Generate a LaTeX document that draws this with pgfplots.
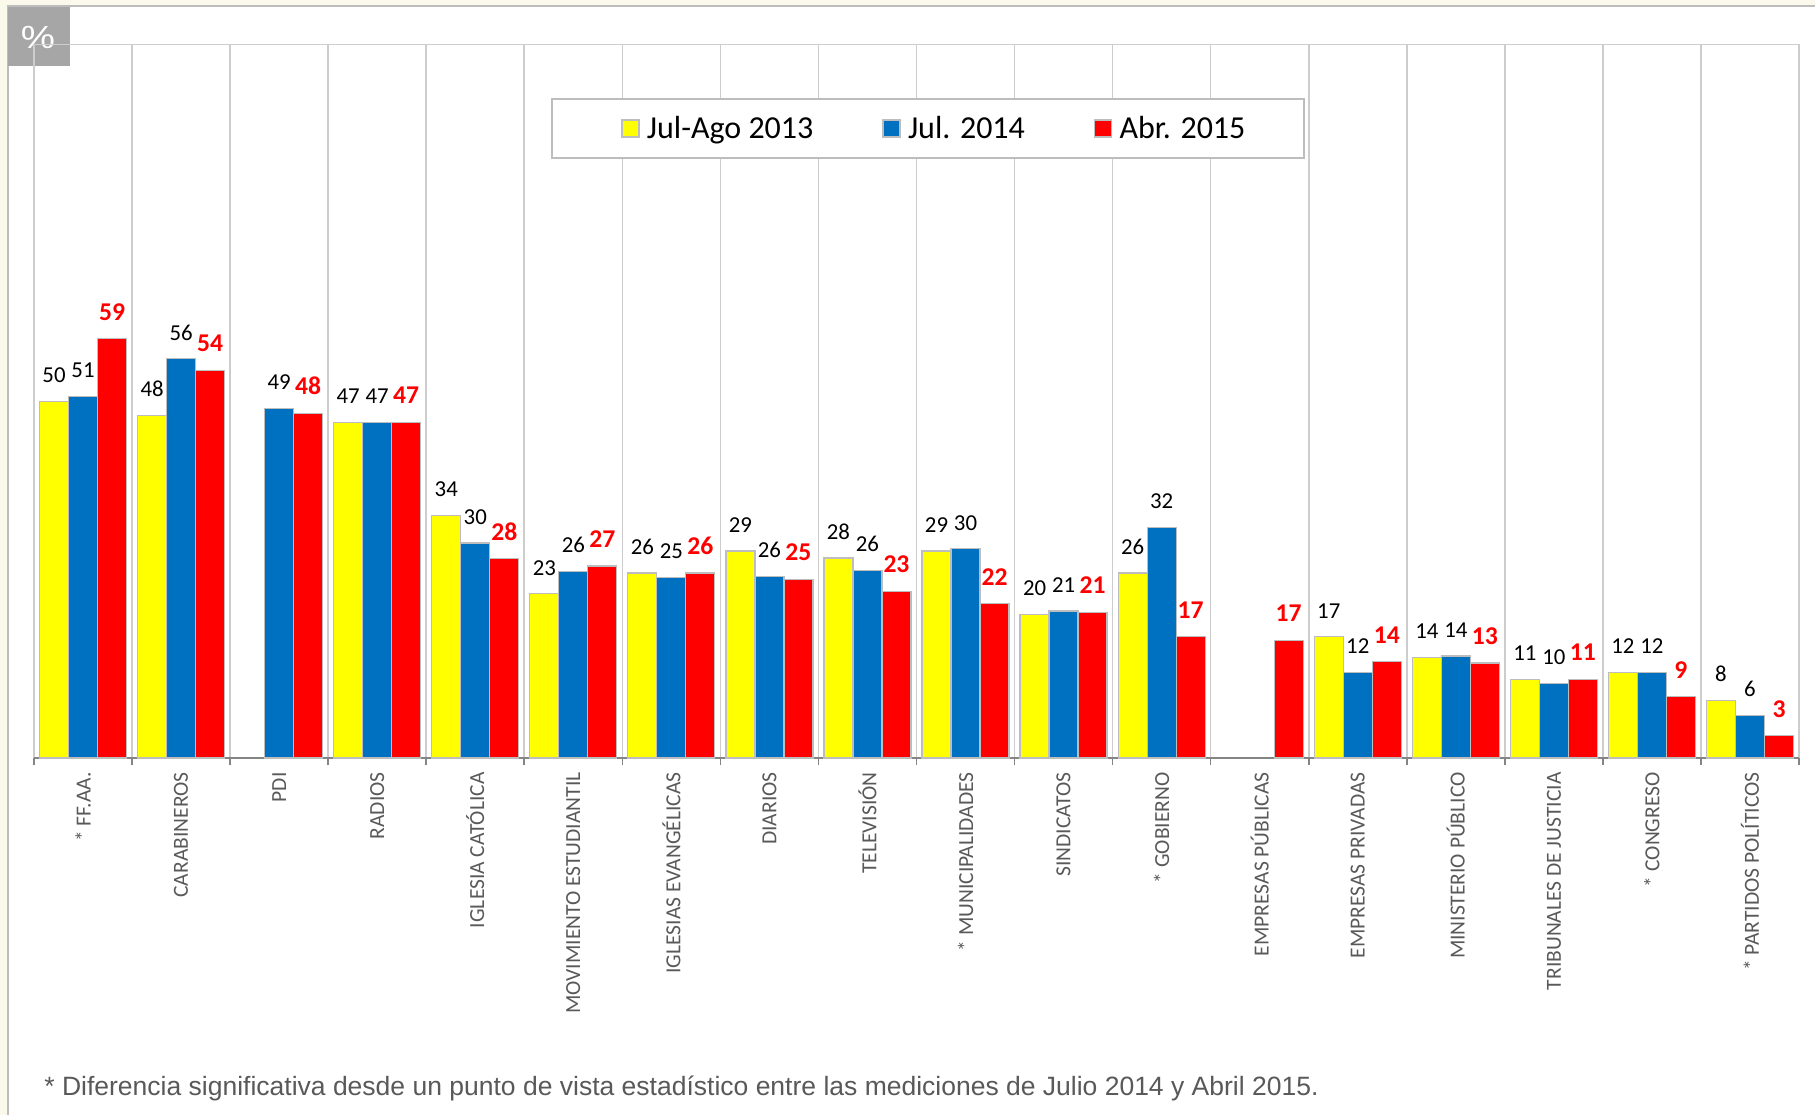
\documentclass[border=0pt]{standalone}
\usepackage{fontspec}
\setmainfont{Carlito}
\newfontfamily\arialf{Liberation Sans}
\usepackage{pgfplots}
\usepackage{pgfplotstable}
\pgfplotsset{compat=1.18}
\definecolor{cream}{HTML}{FBF9EC}
\definecolor{edge}{HTML}{BDBDBD}
\definecolor{grid}{HTML}{CDCDCD}
\definecolor{base}{HTML}{858585}
\definecolor{barblue}{HTML}{0070C0}
\definecolor{baryellow}{HTML}{FFFF00}
\definecolor{txt}{HTML}{595959}

% x, bar height, printed label
\pgfplotstableread{
x y l
0 49.9 50
1 48.0 48
3 47.0 47
4 34.0 34
5 23.0 23
6 25.9 26
7 29.0 29
8 28.0 28
9 29.0 29
10 20.1 20
11 25.9 26
13 17.0 17
14 14.1 14
15 11.0 11
16 12.0 12
17 8.1 8
}\julago
\pgfplotstableread{
x y l
0 50.6 51
1 55.9 56
2 49.0 49
3 47.0 47
4 30.1 30
5 26.1 26
6 25.3 25
7 25.4 26
8 26.3 26
9 29.3 30
10 20.6 21
11 32.3 32
13 12.0 12
14 14.3 14
15 10.4 10
16 12.0 12
17 6.0 6
}\jul
\pgfplotstableread{
x y l
0 58.7 59
1 54.3 54
2 48.3 48
3 47.0 47
4 27.9 28
5 26.9 27
6 25.9 26
7 25.0 25
8 23.3 23
9 21.6 22
10 20.4 21
11 17.0 17
12 16.5 17
13 13.5 14
14 13.3 13
15 11.0 11
16 8.6 9
17 3.1 3
}\abr

\begin{document}
\begin{tikzpicture}
\useasboundingbox (-17pt,-178.5pt) rectangle (890.5pt,379pt);
\fill[cream] (-17pt,-178.5pt) rectangle (890.5pt,379pt);
\fill[white] (-13pt,-178.5pt) rectangle (890.5pt,376pt);
\draw[edge,line width=1pt] (-13pt,-178.5pt) -- (-13pt,376pt) -- (890.5pt,376pt);
\fill[black!35] (-13pt,346pt) rectangle (18pt,375.5pt);
\node[white,font=\arialf\fontsize{16}{16}\selectfont,xscale=1.2,transform shape] at (2pt,360.5pt) {\%};
\begin{axis}[
  scale only axis, width=882.5pt, height=357pt,
  ybar=0pt, bar width=14.5pt,
  xmin=-0.5, xmax=17.5, ymin=0, ymax=100,
  axis x line=bottom, axis y line=none,
  x axis line style={-,draw=base,line width=1pt},
  xtick={0,...,17},
  xticklabels={* FF.AA., CARABINEROS, PDI, RADIOS, IGLESIA CATÓLICA, MOVIMIENTO ESTUDIANTIL, IGLESIAS EVANGÉLICAS, DIARIOS, TELEVISIÓN, * MUNICIPALIDADES, SINDICATOS, * GOBIERNO, EMPRESAS PÚBLICAS, EMPRESAS PRIVADAS, MINISTERIO PÚBLICO, TRIBUNALES DE JUSTICIA, * CONGRESO, * PARTIDOS POLÍTICOS},
  x tick label style={rotate=90, anchor=east, font=\fontsize{10.75}{11}\selectfont, text=txt, inner sep=0pt, xshift=-7pt},
  major tick length=0pt,
  minor xtick={-0.5,0.5,...,17.5},
  minor tick length=3.5pt,
  minor tick style={draw=base,line width=0.8pt},
  tick align=outside,
  xminorgrids, minor grid style={draw=grid,line width=0.8pt},
  ytick=\empty,
  point meta=explicit,
  nodes near coords,
  every node near coord/.append style={anchor=south, inner sep=0pt, yshift=9pt,
    font=\fontsize{11.4}{12}\selectfont, text=black,
    /pgf/number format/assume math mode=true},
  every axis plot/.append style={draw=edge,line width=0.6pt},
  legend columns=3,
  legend style={at={(0.5065,0.8817)}, anchor=center, draw=edge, line width=0.7pt,
    fill=white, font=\fontsize{16}{16}\selectfont, inner xsep=34.7pt, inner ysep=6.5pt,
    /tikz/every even column/.append style={column sep=32.5pt}},
  legend image code/.code={\draw[#1] (-0.5pt,-4.25pt) rectangle (8pt,4.25pt); \path (9.7pt,0pt);},
]
\draw[grid,line width=0.8pt] (rel axis cs:0,1) -- (rel axis cs:1,1);
\addplot[fill=baryellow] table[x=x,y=y,meta=l] {\julago};
\addplot[fill=barblue] table[x=x,y=y,meta=l] {\jul};
\addplot[fill=red, every node near coord/.append style={text=red,
    font=\fontsize{12.8}{13}\selectfont\bfseries}] table[x=x,y=y,meta=l] {\abr};
\legend{Jul-Ago 2013, Jul. 2014, Abr. 2015\kern-7.4pt\relax}
\end{axis}
\node[anchor=base west,inner sep=0pt,text=txt,font=\arialf\fontsize{13.25}{13}\selectfont] at (5pt,-168.5pt)
  {* Diferencia significativa desde un punto de vista estadístico entre las mediciones de Julio 2014 y Abril 2015.};
\end{tikzpicture}
\end{document}
